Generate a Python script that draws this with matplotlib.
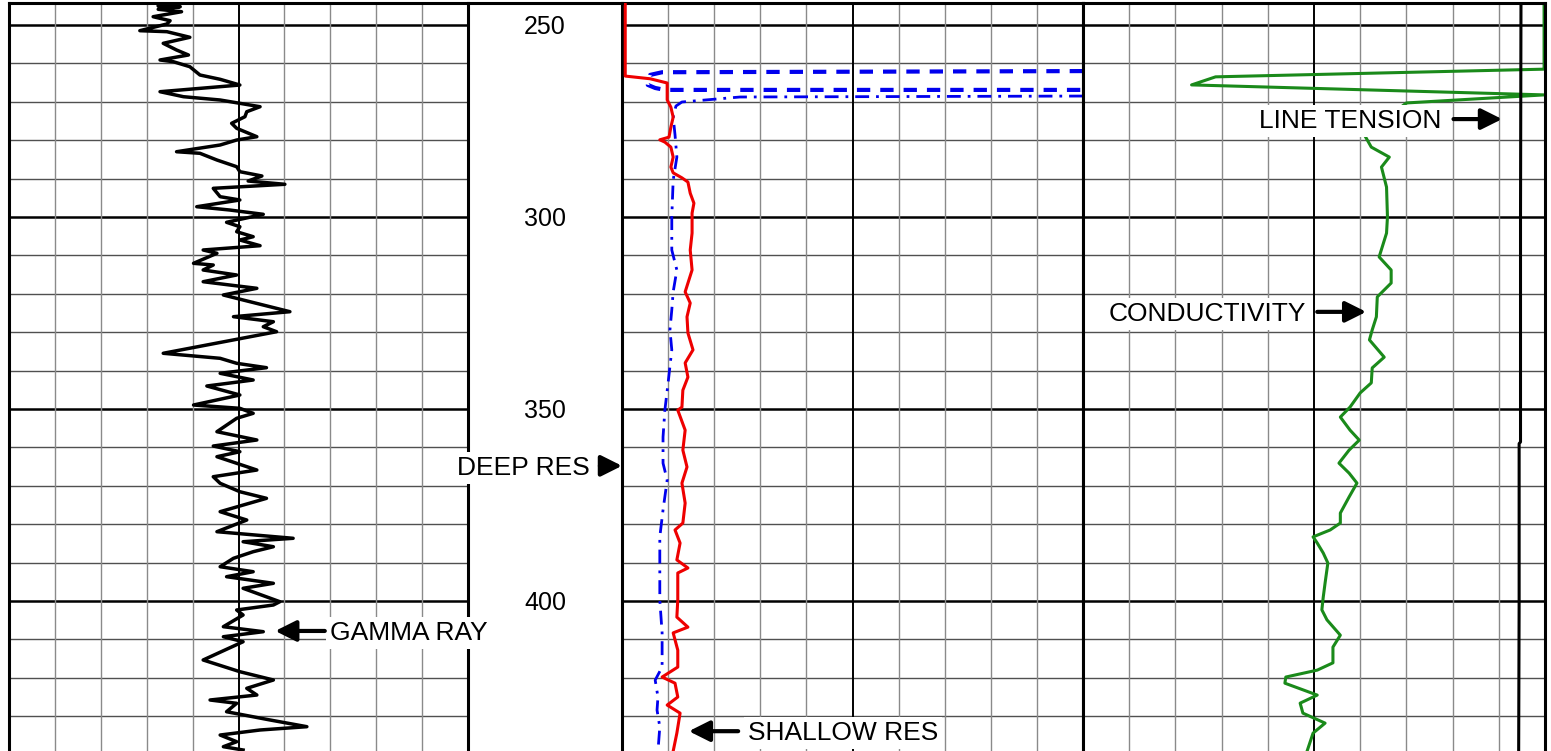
import matplotlib
matplotlib.use('Agg')
import matplotlib.pyplot as plt

plt.rcParams['font.family'] = ['Liberation Sans', 'DejaVu Sans']

# depth window of the log section
depth_top = 244.27
depth_bot = 439.06
depth_labels = [250, 300, 350, 400]

# track 1: gamma ray (0-100 scale)
gr_depth = [244.3, 245.05, 245.23, 245.91, 246.54, 247.84, 248.88, 249.74, 251.48, 251.74,
            253.2, 254.77, 256.51, 257.81, 259.11, 259.56, 260.86, 263.02, 264.14, 265.63,
            267.37, 268.67, 269.53, 271.28, 272.58, 273.88, 275.6, 276.9, 279.09, 279.95,
            281.25, 283.0, 283.41, 285.16, 286.9, 288.2, 289.32, 290.63, 291.48, 292.53,
            294.71, 295.57, 297.32, 298.18, 299.3, 301.38, 302.53, 303.83, 305.13, 305.99,
            307.47, 308.59, 309.45, 312.06, 312.5, 313.8, 315.1, 316.85, 317.71, 318.57,
            320.31, 321.61, 324.66, 325.96, 327.27, 328.57, 329.87, 335.49, 336.8, 338.1,
            339.24, 340.7, 342.45, 344.01, 346.35, 348.96, 349.82, 351.12, 352.42, 355.91,
            358.07, 359.64, 361.12, 362.42, 365.89, 367.63, 369.35, 371.54, 373.26, 376.74,
            378.91, 381.95, 383.67, 384.56, 385.86, 387.16, 388.88, 391.07, 392.37, 393.67,
            395.39, 396.69, 400.18, 401.04, 402.34, 403.65, 406.69, 407.99, 409.3, 410.6,
            415.36, 418.41, 420.57, 422.74, 424.48, 425.78, 426.64, 428.83, 430.99, 432.73,
            433.59, 434.9, 436.64, 437.94, 438.8]
gr_value = [32.5, 32.5, 37.3, 32.5, 37.6, 31.4, 35.1, 34.4, 28.5, 34.4,
            39.4, 33.6, 36.5, 39.1, 32.9, 35.8, 39.4, 41.6, 46.0, 50.3,
            32.9, 38.0, 46.0, 54.7, 51.8, 51.4, 48.5, 49.6, 54.0, 49.6,
            46.0, 36.5, 41.6, 45.3, 49.6, 50.3, 55.1, 52.1, 60.1, 44.5,
            46.0, 50.3, 40.9, 48.1, 55.4, 47.4, 50.3, 49.6, 53.2, 50.3,
            54.7, 42.3, 45.3, 40.2, 44.5, 42.3, 49.6, 42.3, 48.1, 54.0,
            46.7, 51.0, 61.2, 48.9, 57.6, 55.4, 58.3, 33.6, 46.0, 49.6,
            56.1, 46.0, 53.2, 43.1, 50.3, 40.2, 50.3, 53.2, 49.6, 45.3,
            54.0, 44.5, 50.3, 45.3, 54.0, 44.5, 46.0, 50.3, 56.1, 46.0,
            51.8, 45.3, 61.9, 51.0, 57.6, 53.2, 48.9, 46.0, 53.2, 47.4,
            57.6, 51.0, 59.0, 57.6, 49.6, 51.0, 46.7, 55.4, 46.7, 51.0,
            42.3, 50.3, 57.6, 51.8, 54.0, 43.8, 49.6, 47.4, 56.9, 64.9,
            54.7, 46.0, 49.6, 46.7, 51.0]

# track 2: shallow and deep resistivity (0-10 divisions)
sr_depth = [244.3, 263.3, 264.0, 265.1, 269.5, 271.4, 274.0, 276.6, 279.2,
            279.9, 280.5, 281.8, 284.4, 287.0, 288.5, 289.8, 290.9, 293.8, 296.4,
            299.0, 304.2, 308.6, 313.8, 319.5, 322.4, 326.0, 330.2, 334.6, 338.0,
            341.7, 345.1, 349.5, 350.3, 355.5, 360.7, 365.1, 369.3, 374.5, 379.7,
            381.5, 384.9, 389.3, 391.4, 392.7, 399.7, 404.2, 406.8, 408.3, 412.8,
            417.2, 419.8, 421.4, 425.0, 427.1, 429.2, 434.4, 439.1]
sr_value = [0.07, 0.07, 0.61, 0.98, 0.98, 1.06, 1.11, 1.06, 1.02,
            0.82, 0.93, 1.06, 1.11, 1.06, 1.11, 1.30, 1.43, 1.48, 1.56,
            1.52, 1.52, 1.48, 1.52, 1.37, 1.48, 1.41, 1.43, 1.54, 1.37,
            1.43, 1.32, 1.30, 1.21, 1.37, 1.32, 1.41, 1.30, 1.37, 1.32,
            1.15, 1.26, 1.19, 1.43, 1.21, 1.21, 1.19, 1.43, 1.11, 1.21,
            1.21, 0.87, 1.15, 1.21, 0.98, 1.26, 1.19, 1.11]

dr_depth = [262.0, 262.3, 263.0, 265.6, 266.4, 266.9, 266.9, 268.5, 268.75, 270.05,
            271.1, 274.0, 278.6, 284.4, 290.4, 300.0, 308.6, 313.8, 319.5, 324.2,
            329.4, 334.6, 343.2, 350.3, 357.3, 364.1, 368.5, 376.3, 383.3, 391.9,
            399.7, 408.3, 417.2, 420.6, 425.0, 428.4, 432.8, 439.1]
dr_value = [10.0, 0.87, 0.61, 0.56, 0.72, 0.93, 10.0, 10.0, 2.56, 1.30,
            1.17, 1.11, 1.15, 1.19, 1.11, 1.08, 1.08, 1.19, 1.11, 1.08,
            1.04, 1.08, 1.00, 0.93, 0.89, 0.89, 0.98, 0.89, 0.82, 0.82,
            0.82, 0.87, 0.87, 0.72, 0.78, 0.76, 0.82, 0.78]
dr_casing_end = 8  # points read inside casing (drawn as heavy dashes)

# track 3: conductivity and line tension (0-10 divisions)
cd_depth = [244.3, 261.5, 263.5, 265.6, 268.2, 270.3, 278.6, 281.8, 284.4, 287.0,
            292.2, 300.0, 304.2, 310.4, 313.8, 317.2, 320.8, 326.0, 329.4, 332.0,
            336.5, 339.3, 343.2, 345.8, 349.5, 352.1, 355.5, 358.1, 360.7, 364.1,
            366.7, 369.3, 372.9, 377.1, 379.7, 381.5, 383.3, 384.9, 387.5, 390.1,
            395.3, 399.0, 402.3, 404.9, 408.9, 412.0, 416.1, 418.0, 419.8, 421.4,
            424.5, 426.6, 429.2, 431.8, 434.4, 439.1]
cd_value = [9.98, 9.98, 2.87, 2.35, 9.98, 7.0, 6.09, 6.24, 6.63, 6.46,
            6.57, 6.59, 6.57, 6.41, 6.67, 6.67, 6.37, 6.35, 6.26, 6.20,
            6.52, 6.26, 6.24, 6.00, 5.78, 5.57, 5.78, 5.98, 5.76, 5.54,
            5.76, 5.93, 5.76, 5.57, 5.57, 5.35, 4.98, 5.07, 5.20, 5.30,
            5.24, 5.20, 5.17, 5.28, 5.57, 5.41, 5.41, 5.07, 4.39, 4.37,
            5.07, 4.70, 4.76, 5.24, 4.98, 4.85]

lt_depth = [244.8, 300.0, 358.6, 359.0, 400.0, 439.1]
lt_value = [9.48, 9.47, 9.47, 9.44, 9.44, 9.43]

W, H = 1551, 751
fig = plt.figure(figsize=(W / 100, H / 100), dpi=100)
axes_h = (H - 3) / H


def make_track(x0, x1, xmax):
    ax = fig.add_axes([x0 / W, 0, (x1 - x0) / W, axes_h])
    ax.set_xlim(0, xmax)
    ax.set_ylim(depth_bot, depth_top)
    ax.set_xticks([])
    ax.set_yticks([])
    for s in ['left', 'right', 'top']:
        ax.spines[s].set_linewidth(2.2)
    ax.spines['bottom'].set_visible(False)
    # depth grid
    for d in range(250, 440, 10):
        if d % 50 == 0:
            ax.axhline(d, color='black', lw=1.8, zorder=1)
        else:
            ax.axhline(d, color='#505050', lw=1.0, zorder=1)
    # scale grid
    for i in range(1, 10):
        if i == 5:
            ax.axvline(xmax * i / 10, color='black', lw=1.4, zorder=1)
        else:
            ax.axvline(xmax * i / 10, color='#8a8a8a', lw=1.0, zorder=1)
    return ax


ax1 = make_track(9, 468, 100)
ax2 = make_track(622, 1083, 10)
ax3 = make_track(1083, 1545, 10)

# depth column
axd = fig.add_axes([468 / W, 0, 154 / W, axes_h])
axd.set_xlim(0, 1)
axd.set_ylim(depth_bot, depth_top)
axd.set_xticks([])
axd.set_yticks([])
for s in ['left', 'right', 'bottom']:
    axd.spines[s].set_visible(False)
axd.spines['top'].set_linewidth(2.2)
axd.patch.set_alpha(0)
for d in depth_labels:
    axd.text(0.5, d + 2.3, str(d), ha='center', va='baseline', fontsize=18)

# curves
ax1.plot(gr_value, gr_depth, color='black', lw=2.5, zorder=2,
         solid_joinstyle='round')
ax2.plot(dr_value[:dr_casing_end], dr_depth[:dr_casing_end], color='#0000ee',
         lw=3.0, zorder=2, linestyle=(0, (3.2, 2.4)))
ax2.plot(dr_value[dr_casing_end - 1:], dr_depth[dr_casing_end - 1:], color='#0000ee',
         lw=2.0, zorder=2, linestyle=(0, (5, 2.5, 1, 2.5)))
ax2.plot(sr_value, sr_depth, color='#ee0000', lw=2.2, zorder=3,
         solid_joinstyle='round')
ax3.plot(cd_value, cd_depth, color='#1a8a1a', lw=2.2, zorder=2,
         solid_joinstyle='round')
ax3.plot(lt_value, lt_depth, color='black', lw=2.2, zorder=2)

arrow = dict(arrowstyle='-|>,head_length=0.7,head_width=0.35', color='black',
             lw=3, shrinkA=0, shrinkB=0, mutation_scale=18)
box = dict(boxstyle='square,pad=0.15', fc='white', ec='none')


def label(ax, text, tx, ty, ha, tip, tail, ay):
    ax.text(tx, ty, text, ha=ha, va='baseline', fontsize=19, bbox=box,
            zorder=5, clip_on=False)
    ax.annotate('', xy=(tip, ay), xytext=(tail, ay), arrowprops=arrow,
                annotation_clip=False, zorder=6)


label(ax1, 'GAMMA RAY', 69.9, 410.2, 'left', 58.0, 68.8, 407.8)
label(ax2, 'DEEP RES', -0.69, 367.2, 'right', 0.0, -0.48, 364.8)
label(ax2, 'SHALLOW RES', 2.73, 436.2, 'left', 1.45, 2.52, 433.9)
label(ax3, 'CONDUCTIVITY', 4.83, 327.1, 'right', 6.13, 5.07, 324.7)
label(ax3, 'LINE TENSION', 7.76, 276.8, 'right', 9.07, 8.02, 274.5)

fig.savefig('out.png', dpi=100)
